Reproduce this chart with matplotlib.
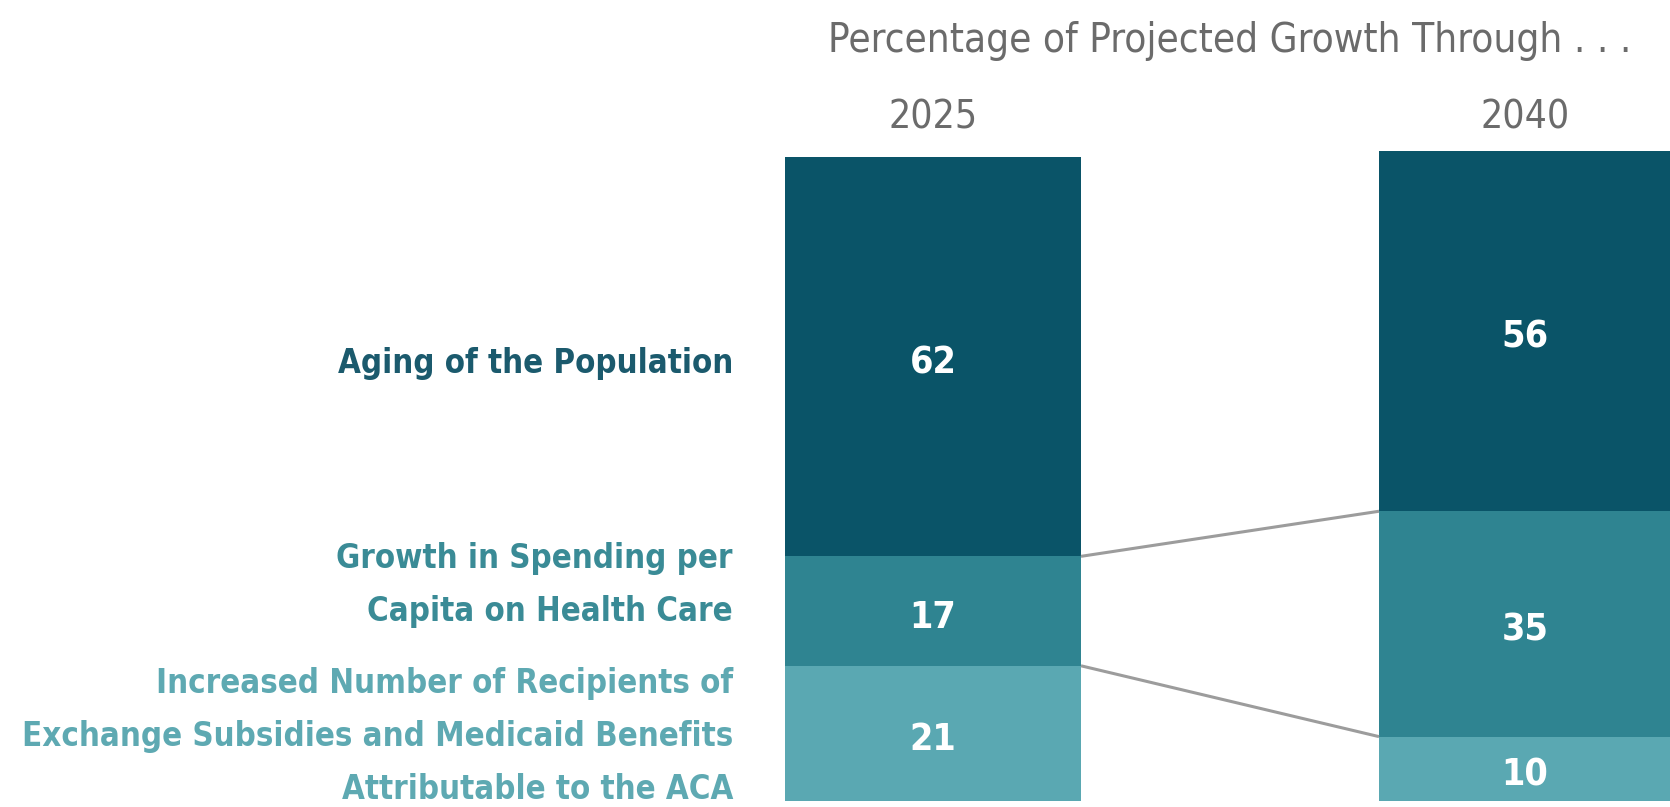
import matplotlib.pyplot as plt
import numpy as np

# data
years = ["2025", "2040"]
categories = ["Increased Number of Recipients of\nExchange Subsidies and Medicaid Benefits\nAttributable to the ACA",
              "Growth in Spending per\nCapita on Health Care",
              "Aging of the Population"]
aca = [21, 10]
spending = [17, 35]
aging = [62, 56]
title = "Percentage of Projected Growth Through . . ."

seg_colors = ["#5aa8b2", "#2f8491", "#0a5468"]
label_colors = ["#5ea9b2", "#3a8b96", "#1b5a6d"]

plt.rcParams["font.family"] = ["DejaVu Sans"]
plt.rcParams["font.stretch"] = "condensed"

fig = plt.figure(figsize=(16.7, 8.07), dpi=100)
ax = fig.add_axes([0, 0, 1, 1])
ax.set_xlim(0, 1670)
ax.set_ylim(-0.93, 124.4)
ax.axis("off")

xc = [933, 1525]
widths = [296, 292]
series = [aca, spending, aging]

bottom = np.zeros(len(years))
tops = []
for s, col in zip(series, seg_colors):
    vals = np.array(s, dtype=float)
    ax.bar(xc, vals, width=widths, bottom=bottom, color=col, linewidth=0)
    for x, b, v in zip(xc, bottom, vals):
        ax.text(x, b + v / 2 - 1, "{:d}".format(int(v)), ha="center", va="center",
                color="white", fontsize=27, fontweight="bold")
    bottom = bottom + vals
    tops.append(bottom.copy())

# connector lines between segment boundaries
left_edge = xc[1] - widths[1] / 2
right_edge = xc[0] + widths[0] / 2
for t in tops[:2]:
    ax.plot([right_edge, left_edge], [t[0], t[1]], color="#9c9c9c", lw=2.2, solid_capstyle="butt")

# category labels on the left
label_y = [10, 33.5, 68]
for lab, y, c in zip(categories, label_y, label_colors):
    ax.text(733, y, lab, ha="right", va="center", color=c, fontsize=23.7,
            fontweight="bold", linespacing=1.78)

for x, yr in zip(xc, years):
    ax.text(x, 106.2, yr, ha="center", va="center", color="#6b6b6b", fontsize=28)

ax.text(1230, 118.0, title, ha="center", va="center", color="#6b6b6b", fontsize=29)

fig.savefig("out.png", dpi=100, facecolor="white")
